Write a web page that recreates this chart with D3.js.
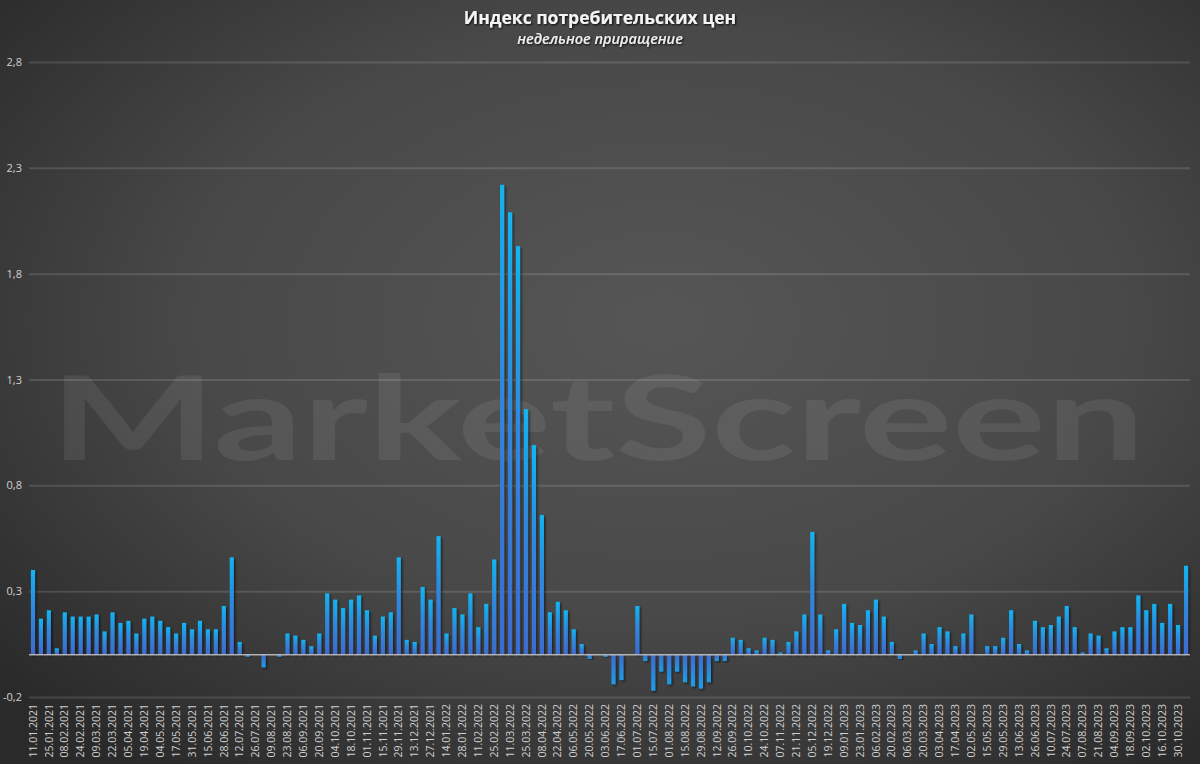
<!DOCTYPE html>
<html><head><meta charset="utf-8">
<script src="https://cdn.jsdelivr.net/npm/d3@7/dist/d3.min.js"></script>
<style>html,body{margin:0;padding:0;background:#333;}svg{display:block;}</style>
</head><body>
<script>
const categories = ["11.01.2021","18.01.2021","25.01.2021","01.02.2021","08.02.2021","15.02.2021","24.02.2021","01.03.2021","09.03.2021","15.03.2021",
"22.03.2021","29.03.2021","05.04.2021","12.04.2021","19.04.2021","26.04.2021","04.05.2021","11.05.2021","17.05.2021","24.05.2021",
"31.05.2021","07.06.2021","15.06.2021","21.06.2021","28.06.2021","05.07.2021","12.07.2021","19.07.2021","26.07.2021","02.08.2021",
"09.08.2021","16.08.2021","23.08.2021","30.08.2021","06.09.2021","13.09.2021","20.09.2021","27.09.2021","04.10.2021","11.10.2021",
"18.10.2021","25.10.2021","01.11.2021","08.11.2021","15.11.2021","22.11.2021","29.11.2021","06.12.2021","13.12.2021","20.12.2021",
"27.12.2021","10.01.2022","14.01.2022","21.01.2022","28.01.2022","04.02.2022","11.02.2022","18.02.2022","25.02.2022","04.03.2022",
"11.03.2022","18.03.2022","25.03.2022","01.04.2022","08.04.2022","15.04.2022","22.04.2022","29.04.2022","06.05.2022","13.05.2022",
"20.05.2022","27.05.2022","03.06.2022","10.06.2022","17.06.2022","24.06.2022","01.07.2022","08.07.2022","15.07.2022","22.07.2022",
"01.08.2022","08.08.2022","15.08.2022","22.08.2022","29.08.2022","05.09.2022","12.09.2022","19.09.2022","26.09.2022","03.10.2022",
"10.10.2022","17.10.2022","24.10.2022","31.10.2022","07.11.2022","14.11.2022","21.11.2022","28.11.2022","05.12.2022","12.12.2022",
"19.12.2022","26.12.2022","09.01.2023","16.01.2023","23.01.2023","30.01.2023","06.02.2023","13.02.2023","20.02.2023","27.02.2023",
"06.03.2023","13.03.2023","20.03.2023","27.03.2023","03.04.2023","10.04.2023","17.04.2023","24.04.2023","02.05.2023","10.05.2023",
"15.05.2023","22.05.2023","29.05.2023","05.06.2023","13.06.2023","19.06.2023","26.06.2023","03.07.2023","10.07.2023","17.07.2023",
"24.07.2023","31.07.2023","07.08.2023","14.08.2023","21.08.2023","28.08.2023","04.09.2023","11.09.2023","18.09.2023","25.09.2023",
"02.10.2023","09.10.2023","16.10.2023","23.10.2023","30.10.2023","06.11.2023"];

const values = [0.40,0.17,0.21,0.03,0.20,0.18,0.18,0.18,0.19,0.11,
0.20,0.15,0.16,0.10,0.17,0.18,0.16,0.13,0.10,0.15,
0.12,0.16,0.12,0.12,0.23,0.46,0.06,-0.01,0,-0.06,
0,-0.01,0.10,0.09,0.07,0.04,0.10,0.29,0.26,0.22,
0.26,0.28,0.21,0.09,0.18,0.20,0.46,0.07,0.06,0.32,
0.26,0.56,0.10,0.22,0.19,0.29,0.13,0.24,0.45,2.22,
2.09,1.93,1.16,0.99,0.66,0.20,0.25,0.21,0.12,0.05,
-0.02,0,-0.01,-0.14,-0.12,0,0.23,-0.03,-0.17,-0.08,
-0.14,-0.08,-0.13,-0.15,-0.16,-0.13,-0.03,-0.03,0.08,0.07,
0.03,0.02,0.08,0.07,0.01,0.06,0.11,0.19,0.58,0.19,
0.02,0.12,0.24,0.15,0.14,0.21,0.26,0.18,0.06,-0.02,
0,0.02,0.10,0.05,0.13,0.11,0.04,0.10,0.19,0,
0.04,0.04,0.08,0.21,0.05,0.02,0.16,0.13,0.14,0.18,
0.23,0.13,0.01,0.10,0.09,0.03,0.11,0.13,0.13,0.28,
0.21,0.24,0.15,0.24,0.14,0.42];

const yTicks = [-0.2,0.3,0.8,1.3,1.8,2.3,2.8];
const title = "Индекс потребительских цен";
const subtitle = "недельное приращение";
const watermark = "MarketScreen";

const W = 1200, H = 764;
const svg = d3.select("body").append("svg").attr("width", W).attr("height", H);
const defs = svg.append("defs");

const bg = defs.append("radialGradient").attr("id","bg").attr("cx","55%").attr("cy","42%").attr("r","72%");
bg.append("stop").attr("offset","0%").attr("stop-color","#565656");
bg.append("stop").attr("offset","55%").attr("stop-color","#484848");
bg.append("stop").attr("offset","100%").attr("stop-color","#2a2a2a");

const gPos = defs.append("linearGradient").attr("id","barPos").attr("x1",0).attr("y1",0).attr("x2",0).attr("y2",1);
gPos.append("stop").attr("offset","0%").attr("stop-color","#12b4f2");
gPos.append("stop").attr("offset","45%").attr("stop-color","#2e88de");
gPos.append("stop").attr("offset","100%").attr("stop-color","#3d6bcf");
const gNeg = defs.append("linearGradient").attr("id","barNeg").attr("x1",0).attr("y1",1).attr("x2",0).attr("y2",0);
gNeg.append("stop").attr("offset","0%").attr("stop-color","#1c9de8");
gNeg.append("stop").attr("offset","100%").attr("stop-color","#3d6bcf");

const sh = defs.append("filter").attr("id","shadow").attr("x","-50%").attr("y","-10%").attr("width","250%").attr("height","130%");
sh.append("feDropShadow").attr("dx",1.5).attr("dy",1.5).attr("stdDeviation",1.2).attr("flood-color","#000").attr("flood-opacity",0.55);

const ts = defs.append("filter").attr("id","tshadow").attr("x","-10%").attr("y","-30%").attr("width","120%").attr("height","160%");
ts.append("feDropShadow").attr("dx",1).attr("dy",1).attr("stdDeviation",0.8).attr("flood-color","#000").attr("flood-opacity",0.9);

svg.append("rect").attr("width",W).attr("height",H).attr("fill","url(#bg)");

// watermark
svg.append("text").attr("x",50).attr("y",460)
  .attr("textLength",1095).attr("lengthAdjust","spacingAndGlyphs")
  .style("font-family","Lato, 'Open Sans', sans-serif").style("font-weight","700").style("font-size","116px")
  .attr("fill","#ffffff").attr("fill-opacity",0.075).text(watermark);

const x = d3.scaleBand().domain(d3.range(categories.length)).range([29,1190]).paddingInner(0.48).paddingOuter(0.24);
const y = d3.scaleLinear().domain([-0.2,2.8]).range([697,62]);

// grid + y axis
const yAxis = d3.axisLeft(y).tickValues(yTicks).tickSize(-(1190-29)).tickPadding(7)
  .tickFormat(d => d3.format(".1f")(d).replace(".", ",").replace("−","-"));
const gy = svg.append("g").attr("transform","translate(29,0)").call(yAxis);
gy.select(".domain").remove();
gy.selectAll(".tick line").attr("stroke","#ffffff").attr("stroke-opacity",0.13).attr("stroke-width",2);
gy.selectAll(".tick text").attr("fill","#d0d0d0").style("font-family","'Open Sans', 'Noto Sans', sans-serif").style("font-size","11px");

// bars
svg.append("g").selectAll("rect").data(values).join("rect")
  .attr("x",(d,i)=>x(i))
  .attr("width",x.bandwidth())
  .attr("y",d=>d>=0?y(d):y(0))
  .attr("height",d=>Math.abs(y(d)-y(0)))
  .attr("fill",d=>d>=0?"url(#barPos)":"url(#barNeg)")
  .attr("filter","url(#shadow)");

// zero line
svg.append("line").attr("x1",29).attr("x2",1190).attr("y1",y(0)).attr("y2",y(0))
  .attr("stroke","#c8c8c8").attr("stroke-opacity",0.85).attr("stroke-width",1.5);

// x labels
const xAxis = d3.axisBottom(x).tickValues(d3.range(0,categories.length,2)).tickSize(0).tickPadding(0)
  .tickFormat(i=>categories[i]);
const gx = svg.append("g").attr("transform","translate(0,704)").call(xAxis);
gx.select(".domain").remove();
gx.selectAll(".tick text").attr("transform","rotate(-90)").attr("text-anchor","end")
  .attr("x",0).attr("y",0).attr("dy","0.35em")
  .attr("fill","#d0d0d0").style("font-family","'Open Sans', 'Noto Sans', sans-serif").style("font-size","10.5px");

// titles
svg.append("text").attr("x",600).attr("y",24).attr("text-anchor","middle")
  .style("font-family","'Open Sans', 'Noto Sans', sans-serif").style("font-weight","700").style("font-size","17.5px")
  .attr("fill","#f4f4f4").attr("filter","url(#tshadow)").text(title);
svg.append("text").attr("x",600).attr("y",44).attr("text-anchor","middle")
  .style("font-family","'Open Sans', 'Noto Sans', sans-serif").style("font-style","italic").style("font-weight","600").style("font-size","14.5px")
  .attr("fill","#eeeeee").attr("filter","url(#tshadow)").text(subtitle);
</script>
</body></html>
